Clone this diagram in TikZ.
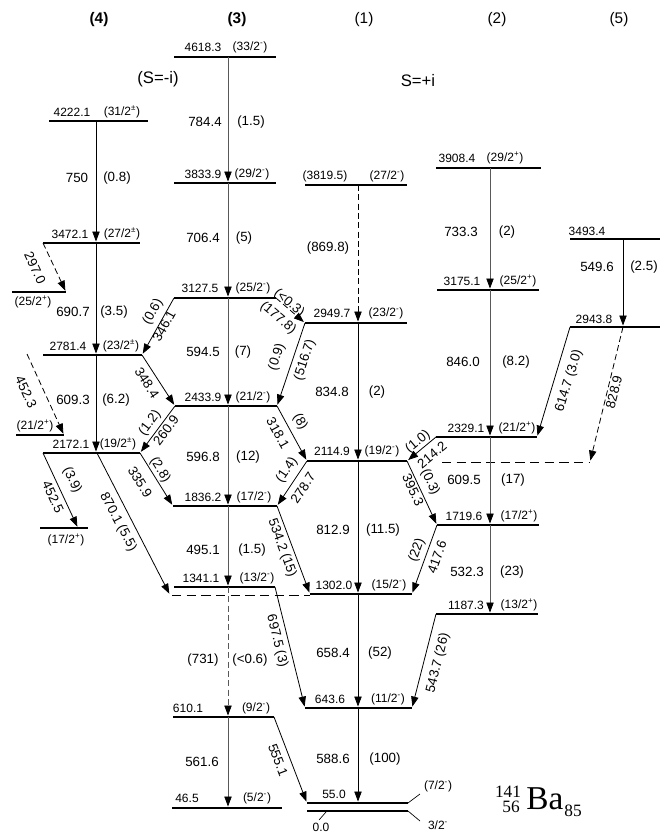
\documentclass[tikz,border=0pt]{standalone}
\usepackage{fontspec}
\setmainfont{Liberation Sans}
\newfontfamily\timesfont{Liberation Serif}
\usetikzlibrary{arrows.meta,calc}
\newcommand\spm{\textsuperscript{-}}
\newcommand\spp{\textsuperscript{+}}
\newcommand\spq{\textsuperscript{±}}
\begin{document}
\begin{tikzpicture}[x=0.75pt,y=-0.75pt,
  level/.style={line width=2.2pt},
  tr/.style={line width=0.6pt,-{Triangle[length=7.5pt,width=5.5pt,color=black]},shorten >=1.1pt},
  trg/.style={tr,draw=black!65},
  tent/.style={dash pattern=on 4.5pt off 2.5pt},
  ext/.style={line width=0.6pt,dash pattern=on 7pt off 4pt},
  elab/.style={font=\fontsize{9}{10}\selectfont,inner sep=0pt},
  glab/.style={font=\fontsize{10}{12}\selectfont,inner sep=0pt},
  hdr/.style={font=\fontsize{11.5}{13}\selectfont,inner sep=0pt}]
\useasboundingbox (0,0) rectangle (660,838);
\fill[white] (0,0) rectangle (660,838);
% columns
\coordinate (c4) at (96,0);
\coordinate (c3) at (228,0);
\coordinate (c1) at (358,0);
\coordinate (c2) at (490,0);
\coordinate (c5) at (623,0);
% levels
\foreach \n/\a/\b/\y in {a4618/174/276/57,a3833/174/276/183,a3127/174/276/298,a2433/175/277/406,a1836/173/277/506,a1341/174/275/587,a610/173/274/717,a46/172/282/808,
 b4222/49/148/121,b3472/43/140/243,b3175/12/66/292,b2781/43/142/355,b2329/16/64/435,b2172/43/140/453,b1719/40/88/528,
 d3819/305/407/185,d2949/305/407/323,d2114/307/407/461,d1302/310/412/594,d643/305/412/708,d55/307/408/803,d0/307/408/811,
 e3908/436/541/168,e3175/437/539/290,e2329/436/537/437,e1719/437/539/525,e1187/436/538/614,
 f3493/570/660/239,f2943/570/660/327}
 {\coordinate (L\n) at (\a,\y); \coordinate (R\n) at (\b,\y); \draw[level] (L\n) -- (R\n);}
% extra coordinates
\coordinate (s4523) at (27,354);
\coordinate (t4525) at (78,528);
\coordinate (s8701) at (97,453);
\coordinate (t8701) at (170,595);
\coordinate (x1302a) at (172,595);
\coordinate (x1302b) at (310,595);
\coordinate (x2114a) at (442,462);
\coordinate (x2114b) at (590,462);
\coordinate (s8289) at (623,327);
\coordinate (k72) at (420,794);
\coordinate (k32) at (420,821);
\coordinate (k0a) at (326,812);
\coordinate (k0b) at (319,820);
% extensions
\draw[ext] (x1302a) -- (x1302b);
\draw[ext] (x2114a) -- (x2114b);
\draw[line width=0.5pt] (Rd55) -- (k72);
\draw[line width=0.5pt] (Rd0) -- (k32);
\draw[line width=0.5pt] (k0a) -- (k0b);
% vertical transitions
\draw[tr] (c4 |- Lb4222) -- (c4 |- Lb3472);
\draw[tr] (c4 |- Lb3472) -- (c4 |- Lb2781);
\draw[tr] (c4 |- Lb2781) -- (c4 |- Lb2172);
\draw[trg] (c3 |- La4618) -- (c3 |- La3833);
\draw[trg] (c3 |- La3833) -- (c3 |- La3127);
\draw[trg] (c3 |- La3127) -- (c3 |- La2433);
\draw[trg] (c3 |- La2433) -- (c3 |- La1836);
\draw[trg] (c3 |- La1836) -- (c3 |- La1341);
\draw[trg,tent] (c3 |- La1341) -- (c3 |- La610);
\draw[trg] (c3 |- La610) -- (c3 |- La46);
\draw[tr,tent] (c1 |- Ld3819) -- (c1 |- Ld2949);
\draw[tr] (c1 |- Ld2949) -- (c1 |- Ld2114);
\draw[tr] (c1 |- Ld2114) -- (c1 |- Ld1302);
\draw[tr] (c1 |- Ld1302) -- (c1 |- Ld643);
\draw[tr] (c1 |- Ld643) -- (c1 |- Ld55);
\draw[trg] (c2 |- Le3908) -- (c2 |- Le3175);
\draw[trg] (c2 |- Le3175) -- (c2 |- Le2329);
\draw[trg] (c2 |- Le2329) -- (c2 |- Le1719);
\draw[trg] (c2 |- Le1719) -- (c2 |- Le1187);
\draw[tr] (c5 |- Lf3493) -- (c5 |- Lf2943);
% diagonal transitions
\draw[tr,tent] (Lb3472) -- (Rb3175);
\draw[tr,tent] (s4523) -- (Rb2329);
\draw[tr] (Lb2172) -- (t4525);
\draw[tr] (s8701) -- (t8701);
\draw[tr] (La3127) -- (Rb2781);
\draw[tr] (Rb2781) -- (La2433);
\draw[tr] (La2433) -- (Rb2172);
\draw[tr] (Rb2172) -- (La1836);
\draw[tr,tent] (Ra3127) -- (Ld2949);
\draw[tr] (Ld2949) -- (Ra2433);
\draw[tr] (Ra2433) -- (Ld2114);
\draw[tr] (Ld2114) -- (Ra1836);
\draw[tr] (Ra1836) -- (Ld1302);
\draw[tr] (Ra1341) -- (Ld643);
\draw[tr] (Ra610) -- (Ld55);
\draw[tr] (Le2329) -- (Rd2114);
\draw[tr] (Rd2114) -- (Le1719);
\draw[tr] (Le1719) -- (Rd1302);
\draw[tr] (Le1187) -- (Rd643);
\draw[tr] (Lf2943) -- (Re2329);
\draw[tr,tent] (s8289) -- (x2114b);
% headers
\node[hdr,font=\fontsize{11.5}{13}\selectfont\bfseries] (h4) at (99,20) {(4)};
\node[hdr,font=\fontsize{11.5}{13}\selectfont\bfseries] (h3) at (237,20) {(3)};
\node[hdr] (h1) at (364,20) {(1)};
\node[hdr] (h2) at (497,20) {(2)};
\node[hdr] (h5) at (619,20) {(5)};
\node[hdr,font=\fontsize{12.5}{14}\selectfont] (sm) at (158,79) {(S=-i)};
\node[hdr,font=\fontsize{12.5}{14}\selectfont] (sp) at (418,81) {S=+i};
% level labels col 3
\node[elab] (ea4618) at (203,47) {4618.3};  \node[elab] (sa4618) at (250,47) {(33/2\spm)};
\node[elab] (ea3833) at (203,174) {3833.9}; \node[elab] (sa3833) at (252,174) {(29/2\spm)};
\node[elab] (ea3127) at (200,288) {3127.5}; \node[elab] (sa3127) at (253,288) {(25/2\spm)};
\node[elab] (ea2433) at (203,397) {2433.9}; \node[elab] (sa2433) at (253,397) {(21/2\spm)};
\node[elab] (ea1836) at (203,497) {1836.2}; \node[elab] (sa1836) at (254,497) {(17/2\spm)};
\node[elab] (ea1341) at (201,578) {1341.1}; \node[elab] (sa1341) at (257,578) {(13/2\spm)};
\node[elab] (ea610) at (188,708) {610.1};   \node[elab] (sa610) at (256,708) {(9/2\spm)};
\node[elab] (ea46) at (187,798) {46.5};     \node[elab] (sa46) at (257,798) {(5/2\spm)};
% col 4
\node[elab] (eb4222) at (72,112) {4222.1}; \node[elab] (sb4222) at (122,112) {(31/2\spq)};
\node[elab] (eb3472) at (70,234) {3472.1}; \node[elab] (sb3472) at (122,234) {(27/2\spq)};
\node[elab] (sb3175) at (33,302) {(25/2\spp)};
\node[elab] (eb2781) at (68,346) {2781.4}; \node[elab] (sb2781) at (121,346) {(23/2\spq)};
\node[elab] (sb2329) at (35,426) {(21/2\spp)};
\node[elab] (eb2172) at (71,444) {2172.1}; \node[elab] (sb2172) at (118,444) {(19/2\spq)};
\node[elab] (sb1719) at (66,540) {(17/2\spp)};
% col 1
\node[elab] (ed3819) at (325,176) {(3819.5)}; \node[elab] (sd3819) at (387,176) {(27/2\spm)};
\node[elab] (ed2949) at (332,313) {2949.7}; \node[elab] (sd2949) at (386,313) {(23/2\spm)};
\node[elab] (ed2114) at (332,451) {2114.9}; \node[elab] (sd2114) at (382,451) {(19/2\spm)};
\node[elab] (ed1302) at (334,585) {1302.0}; \node[elab] (sd1302) at (389,585) {(15/2\spm)};
\node[elab] (ed643) at (330,699) {643.6};   \node[elab] (sd643) at (388,699) {(11/2\spm)};
\node[elab] (ed55) at (334,794) {55.0};     \node[elab] (sd55) at (438,786) {(7/2\spm)};
\node[elab] (ed0) at (321,827) {0.0};       \node[elab] (sd0) at (438,825) {3/2\spm};
% col 2
\node[elab] (ee3908) at (457,158) {3908.4}; \node[elab] (se3908) at (505,158) {(29/2\spp)};
\node[elab] (ee3175) at (462,281) {3175.1}; \node[elab] (se3175) at (518,281) {(25/2\spp)};
\node[elab] (ee2329) at (466,428) {2329.1}; \node[elab] (se2329) at (517,428) {(21/2\spp)};
\node[elab] (ee1719) at (464,516) {1719.6}; \node[elab] (se1719) at (519,516) {(17/2\spp)};
\node[elab] (ee1187) at (466,605) {1187.3}; \node[elab] (se1187) at (519,605) {(13/2\spp)};
% col 5
\node[elab] (ef3493) at (587,231) {3493.4};
\node[elab] (ef2943) at (594,319) {2943.8};
% gamma labels vertical
\node[glab] (g750) at (77,178) {750};     \node[glab] (i750) at (117,178) {(0.8)};
\node[glab] (g690) at (73,312) {690.7};   \node[glab] (i690) at (114,312) {(3.5)};
\node[glab] (g609) at (73,400) {609.3};   \node[glab] (i609) at (116,400) {(6.2)};
\node[glab] (g784) at (205,122) {784.4};  \node[glab] (i784) at (251,122) {(1.5)};
\node[glab] (g706) at (203,238) {706.4};  \node[glab] (i706) at (244,238) {(5)};
\node[glab] (g594) at (203,352) {594.5};  \node[glab] (i594) at (243,352) {(7)};
\node[glab] (g596) at (203,457) {596.8};  \node[glab] (i596) at (248,457) {(12)};
\node[glab] (g495) at (203,550) {495.1};  \node[glab] (i495) at (252,550) {(1.5)};
\node[glab] (g731) at (203,660) {(731)};  \node[glab] (i731) at (250,660) {(<0.6)};
\node[glab] (g561) at (202,762) {561.6};
\node[glab] (g869) at (328,248) {(869.8)};
\node[glab] (g834) at (332,392) {834.8};  \node[glab] (i834) at (377,392) {(2)};
\node[glab] (g812) at (333,530) {812.9};  \node[glab] (i812) at (383,530) {(11.5)};
\node[glab] (g658) at (333,653) {658.4};  \node[glab] (i658) at (380,653) {(52)};
\node[glab] (g588) at (333,759) {588.6};  \node[glab] (i588) at (385,759) {(100)};
\node[glab] (g733) at (461,232) {733.3};  \node[glab] (i733) at (507,232) {(2)};
\node[glab] (g846) at (463,362) {846.0};  \node[glab] (i846) at (516,362) {(8.2)};
\node[glab] (g6095) at (464,480) {609.5}; \node[glab] (i6095) at (513,480) {(17)};
\node[glab] (g532) at (467,572) {532.3};  \node[glab] (i532) at (512,572) {(23)};
\node[glab] (g549) at (597,267) {549.6};  \node[glab] (i549) at (644,267) {(2.5)};
% gamma labels diagonal
\node[glab,rotate=-65] (g297) at (35,268) {297.0};
\node[glab,rotate=-65] (g4523) at (26,392) {452.3};
\node[glab,rotate=-65] (g4525) at (53,497) {452.5};
\node[glab,rotate=-65] (i4525) at (72,480) {(3.9)};
\node[glab,rotate=-62] (g870) at (118,522) {870.1 (5.5)};
\node[glab,rotate=61] (i346) at (153,312) {(0.6)};
\node[glab,rotate=61] (g346) at (164,326) {346.1};
\node[glab,rotate=-57] (g348) at (147,383) {348.4};
\node[glab,rotate=53] (i260) at (150,423) {(1.2)};
\node[glab,rotate=53] (g260) at (166,430) {260.9};
\node[glab,rotate=-58] (g335) at (140,482) {335.9};
\node[glab,rotate=-58] (i335) at (160,470) {(2.8)};
\node[glab,rotate=-40] (i177) at (289,303) {(<0.3)};
\node[glab,rotate=-40] (g177) at (278,318) {(177.8)};
\node[glab,rotate=72] (i516) at (277,357) {(0.9)};
\node[glab,rotate=72] (g516) at (305,360) {(516.7)};
\node[glab,rotate=-61] (g318) at (278,433) {318.1};
\node[glab,rotate=-61] (i318) at (300,422) {(8)};
\node[glab,rotate=56] (i278) at (287,470) {(1.4)};
\node[glab,rotate=56] (g278) at (303,488) {278.7};
\node[glab,rotate=-70] (g534) at (282,548) {534.2 (15)};
\node[glab,rotate=-76] (g697) at (277,641) {697.5 (3)};
\node[glab,rotate=-69] (g555) at (278,760) {555.1};
\node[glab,rotate=40] (i214) at (418,442) {(1.0)};
\node[glab,rotate=40] (g214) at (432,455) {214.2};
\node[glab,rotate=-65] (g395) at (413,490) {395.3};
\node[glab,rotate=-65] (i395) at (430,482) {(0.3)};
\node[glab,rotate=70] (i417) at (417,550) {(22)};
\node[glab,rotate=70] (g417) at (437,557) {417.6};
\node[glab,rotate=76] (g543) at (438,663) {543.7 (26)};
\node[glab,rotate=73] (g614) at (569,381) {614.7 (3.0)};
\node[glab,rotate=76] (g828) at (614,392) {828.9};
% nucleus
\node[inner sep=0pt,font=\timesfont\fontsize{13}{14}\selectfont] (t141) at (508,792) {141};
\node[inner sep=0pt,font=\timesfont\fontsize{13}{14}\selectfont] (t56) at (511,807) {56};
\node[inner sep=0pt,font=\timesfont\fontsize{25}{26}\selectfont] (tBa) at (545,799) {Ba};
\node[inner sep=0pt,font=\timesfont\fontsize{13}{14}\selectfont] (t85) at (573,811) {85};
\end{tikzpicture}
\end{document}
